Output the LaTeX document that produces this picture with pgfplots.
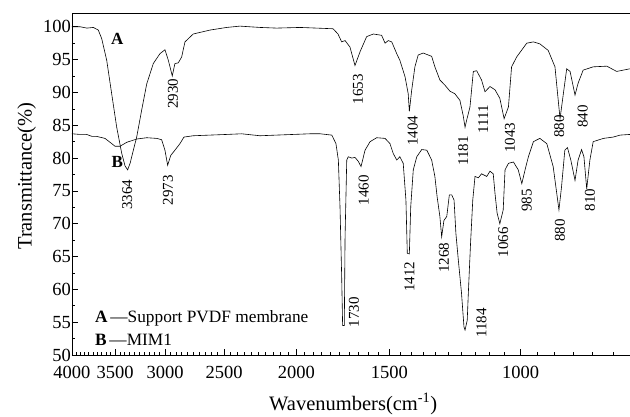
\documentclass[border=0pt]{standalone}
\usepackage{pgfplots}
\pgfplotsset{compat=1.18}
\usepackage{fontspec}
\setmainfont{Liberation Serif}
\begin{document}
\begin{tikzpicture}
\begin{axis}[
  name=ax, scale only axis, width=558pt, height=342pt,
  xmode=log, x dir=reverse, xmin=713, xmax=4000,
  ymin=50, ymax=102.1,
  axis x line*=box, axis y line*=left, axis line style={-, line width=0.8pt},
  xtick pos=bottom, ytick pos=left, tick align=inside,
  xtick={1000,1500,2000,2500,3000,3500,4000},
  xticklabels={},
  minor xtick={750,800,...,3950},
  ytick={50,55,...,100}, minor ytick={52.5,57.5,...,97.5},
  major tick length=6pt, minor tick length=3pt,
  every tick/.style={black, line width=0.6pt},
  /pgf/number format/assume math mode=true,
  tick label style={font=\fontsize{18.5}{21}\selectfont, inner sep=1pt},
  xlabel={Wavenumbers(cm\textsuperscript{-1})}, ylabel={Transmittance(\%)},
  label style={font=\fontsize{20.5}{24}\selectfont},
  xlabel style={at={(axis description cs:0.504,-0.143)}, anchor=center},
  ylabel style={at={(axis description cs:-0.081,0.523)}, anchor=center},
  clip=false,
]
\addplot[black, line width=0.6pt] coordinates {
(4000,100.0) (3900,100.0) (3820,99.8) (3745,99.9) (3688,99.5) (3649,98.2) (3593,94.9) (3538,89.8)
(3484,84.7) (3430,80.7) (3395,78.8) (3368,78.2) (3340,79.3) (3326,80.2) (3275,83.2)
(3225,87.3) (3175,91.3) (3111,94.4) (3048,95.9) (3001,96.5) (2970,94.9) (2934,92.5)
(2910,94.4) (2880,94.5) (2850,95.4) (2821,97.7) (2750,98.9) (2611,99.5) (2480,99.9)
(2380,100.1) (2237,99.9) (2125,99.8) (1977,99.9) (1785,99.7) (1758,98.9) (1738,97.7)
(1720,97.9) (1694,96.9) (1668,94.1) (1642,96.2) (1609,98.5) (1576,98.9) (1536,98.7)
(1520,97.5) (1505,97.9) (1489,97.7) (1466,95.9) (1452,94.9) (1429,92.4) (1415,89.8)
(1410,87.1) (1400,90.3) (1386,93.9) (1372,95.7) (1351,96.0) (1316,95.5) (1303,93.9)
(1283,91.9) (1263,91.1) (1244,90.2) (1225,89.8) (1206,88.8) (1194,86.5) (1187,84.7)
(1181,85.8) (1169,87.8) (1157,93.2) (1145,93.3) (1128,91.9) (1116,90.1) (1099,90.9)
(1082,90.4) (1066,89.1) (1052,86.0) (1038,87.8) (1028,93.9) (1012,95.4) (981,97.5)
(961,97.7) (942,97.4) (918,96.4) (899,93.9) (890,88.8) (885,86.0) (876,89.8)
(867,93.6) (858,93.2) (845,89.6) (837,91.4) (824,93.4) (799,93.9) (766,94.0)
(743,93.2) (713,93.6)
};
\addplot[black, line width=0.6pt] coordinates {
(4000,83.7) (3900,83.6) (3822,83.6) (3760,83.3) (3706,83.3) (3612,83.0) (3556,82.4)
(3502,81.8) (3448,81.8) (3378,82.4) (3275,82.9) (3175,83.1) (3079,83.0) (3032,82.8)
(3001,81.2) (2976,78.9) (2948,80.4) (2910,81.2) (2865,82.2) (2830,83.2) (2750,83.4)
(2480,83.6) (2368,83.7) (2237,83.4) (2020,83.6) (1917,83.7) (1858,83.7) (1792,83.5)
(1769,82.2) (1756,79.7) (1747,72.6) (1738,61.9) (1733,54.5) (1724,54.5) (1720,68.0)
(1711,79.7) (1703,80.2) (1685,80.0) (1668,80.1) (1651,79.5) (1637,78.7) (1617,81.2)
(1592,82.5) (1560,83.1) (1520,83.0) (1497,82.2) (1482,80.7) (1466,79.7) (1452,80.2)
(1437,79.2) (1425,73.6) (1419,65.5) (1410,65.4) (1404,72.6) (1393,78.2) (1378,80.2)
(1357,81.3) (1336,81.2) (1316,79.7) (1303,77.2) (1294,74.1) (1283,71.1) (1276,68.0)
(1267,70.5) (1256,71.1) (1246,74.4) (1237,74.4) (1228,73.6) (1221,68.5) (1212,64.5)
(1200,59.4) (1191,54.3) (1187,53.8) (1179,55.3) (1175,59.4) (1167,67.0) (1159,73.6)
(1151,77.2) (1139,77.0) (1128,77.6) (1110,77.2) (1099,78.0) (1088,77.6) (1082,74.6)
(1075,71.6) (1066,70.0) (1055,72.1) (1049,78.2) (1038,79.2) (1022,79.4) (1007,78.2)
(996,76.1) (986,78.2) (976,80.2) (961,82.5) (942,83.0) (922,82.2) (904,78.7)
(894,74.6) (888,72.1) (881,75.6) (872,81.2) (865,81.6) (856,79.7) (845,76.6)
(837,79.7) (828,81.3) (822,80.2) (815,75.3) (807,79.7) (799,82.5) (774,83.0)
(751,83.2) (735,83.5) (713,83.6)
};
\begin{scope}[every node/.style={font=\fontsize{18.5}{21}\selectfont, anchor=center, inner sep=0pt, yshift=-17pt}]
\node at (axis cs:4000,50) {4000};
\node at (axis cs:3500,50) {3500};
\node at (axis cs:3000,50) {3000};
\node at (axis cs:2500,50) {2500};
\node at (axis cs:2000,50) {2000};
\node at (axis cs:1500,50) {1500};
\node at (axis cs:1000,50) {1000};
\end{scope}
\begin{scope}[every node/.style={font=\fontsize{15}{18}\selectfont, rotate=90, anchor=center, inner sep=0pt}]
\node at (axis cs:3372,74.4) {3364};
\node at (axis cs:2928,89.8) {2930};
\node at (axis cs:2973,75.1) {2973};
\node at (axis cs:1652,90.5) {1653};
\node at (axis cs:1396,84.2) {1404};
\node at (axis cs:1194,81.1) {1181};
\node at (axis cs:1122,85.9) {1111};
\node at (axis cs:1033,83.1) {1043};
\node at (axis cs:887,84.8) {880};
\node at (axis cs:825,86.3) {840};
\node at (axis cs:1673,56.5) {1730};
\node at (axis cs:1624,75.1) {1460};
\node at (axis cs:1410,61.9) {1412};
\node at (axis cs:1267,64.8) {1268};
\node at (axis cs:1128,54.9) {1184};
\node at (axis cs:1055,67.2) {1066};
\node at (axis cs:981,73.5) {985};
\node at (axis cs:885,69.0) {880};
\node at (axis cs:807,73.6) {810};
\end{scope}
\node[font=\fontsize{17}{20}\selectfont\bfseries] at (axis cs:3478,98.2) {A};
\node[font=\fontsize{17}{20}\selectfont\bfseries] at (axis cs:3478,79.4) {B};
\node[anchor=west, font=\fontsize{17.3}{20}\selectfont, inner sep=0pt] at (axis description cs:0.041,0.108) {\textbf{A}\,—Support PVDF membrane};
\node[anchor=west, font=\fontsize{17.3}{20}\selectfont, inner sep=0pt] at (axis description cs:0.041,0.044) {\textbf{B}\,—MIM1};
\end{axis}
\pgfresetboundingbox
\path[use as bounding box] ([xshift=-72pt,yshift=-61pt]ax.south west) rectangle ([yshift=13pt]ax.north east);
\end{tikzpicture}
\end{document}
